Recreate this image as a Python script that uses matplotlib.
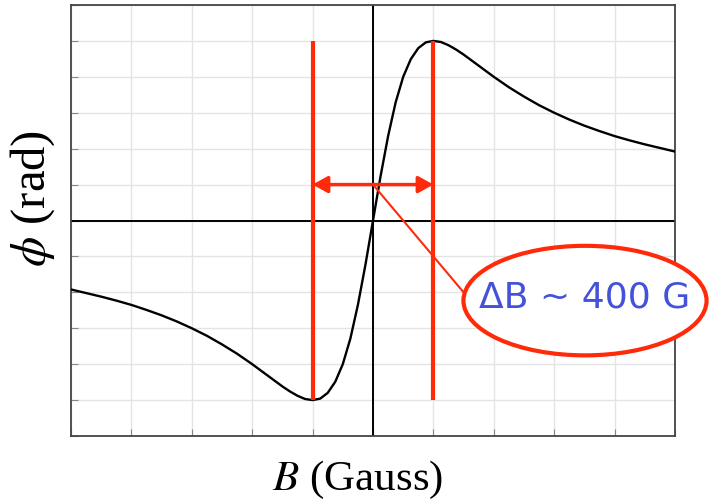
import matplotlib
matplotlib.use("Agg")
import matplotlib.pyplot as plt
from matplotlib.patches import Ellipse, FancyArrowPatch

# Field values (Gauss) and phase (arbitrary grid units)
B_pos = [0, 25, 50, 75, 100, 125, 150, 175, 200, 225, 250, 275, 300,
         350, 400, 450, 500, 550, 600, 650, 700, 750, 800, 850, 900, 950, 1000]
phi_pos = [0.00, 1.23, 2.35, 3.29, 4.00, 4.49, 4.80, 4.96, 5.00, 4.97, 4.88, 4.76, 4.62,
           4.31, 4.00, 3.71, 3.45, 3.21, 3.00, 2.81, 2.64, 2.49, 2.35, 2.23, 2.12, 2.02, 1.92]
B_vals = [-b for b in B_pos[:0:-1]] + B_pos
phi_vals = [-p for p in phi_pos[:0:-1]] + phi_pos

peak_B = [-200, 200]
peak_lo, peak_hi = -5, 5
arrow_y = 1.0
label_text = "ΔB ~ 400 G"

plt.rcParams["mathtext.fontset"] = "stix"
fig = plt.figure(figsize=(7.12, 5.04), dpi=100)
ax = fig.add_axes([71/712, 1-436/504, 604/712, 431/504])
ax.set_xlim(-1000, 1000)
ax.set_ylim(-6, 6)
ax.set_xticks(range(-1000, 1001, 200))
ax.set_yticks(range(-6, 7, 1))
ax.set_xticklabels([])
ax.set_yticklabels([])
ax.tick_params(direction="in", length=5, color="#888888", top=False, right=False)
ax.grid(True, color="#e4e4e4", linewidth=1)
for s in ax.spines.values():
    s.set_color("#444444")
    s.set_linewidth(1.3)
ax.set_axisbelow(True)

ax.axhline(0, color="black", lw=1.4, zorder=2)
ax.axvline(0, color="black", lw=1.4, zorder=2)
ax.plot(B_vals, phi_vals, color="black", lw=1.7, zorder=3)

red = "#ff2a0a"
for b in peak_B:
    ax.plot([b, b], [peak_lo, peak_hi], color=red, lw=3.0, solid_capstyle="butt", zorder=4)

ax.add_patch(FancyArrowPatch((peak_B[0], arrow_y), (peak_B[1], arrow_y),
                             arrowstyle="<|-|>,head_length=9,head_width=5",
                             color=red, lw=2.5, shrinkA=0, shrinkB=0, zorder=5))

# callout line and ellipse
ax.plot([5, 300], [0.95, -2.0], color=red, lw=1.5, zorder=4)
ax.add_patch(Ellipse((702, -2.23), 805, 3.05, color="white", zorder=5, clip_on=False))
ax.add_patch(Ellipse((702, -2.23), 805, 3.05, fill=False, edgecolor=red, lw=3.0,
                     clip_on=False, zorder=6))
ax.text(702, -2.15, label_text, ha="center", va="center", color="#4352d8",
        fontsize=26, family="DejaVu Sans", zorder=7, clip_on=False)

fig.text(358/712, 1-480/504, r"$B$ (Gauss)", ha="center", va="center",
         fontsize=31, family="Liberation Serif")
fig.text(33/712, 1-198/504, r"$\phi$ (rad)", ha="center", va="center",
         fontsize=35, family="Liberation Serif", rotation=90)

fig.savefig("out.png", dpi=100)
